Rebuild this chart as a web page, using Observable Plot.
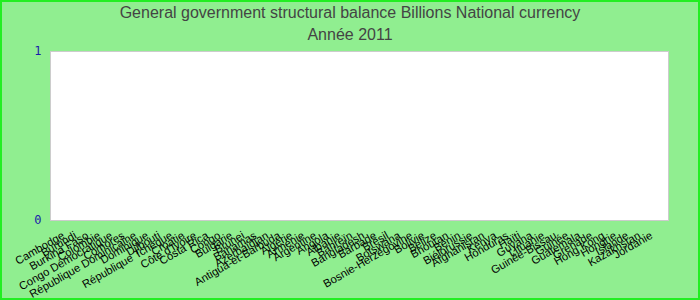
<!DOCTYPE html>
<html>
<head>
<meta charset="utf-8">
<script src="https://cdn.jsdelivr.net/npm/d3@7"></script>
<script src="https://cdn.jsdelivr.net/npm/@observablehq/plot@0.6"></script>
<style>
  html, body { margin: 0; padding: 0; }
  #wrap {
    width: 700px; height: 300px; box-sizing: border-box;
    background: #90EE90; border: 2px solid #22ee22;
    font-family: "Liberation Sans", Arial, sans-serif; overflow: hidden;
  }
  .title { text-align: center; color: #444; font-size: 16px; height: 22px; line-height: 22px; }
  .sub { text-align: center; color: #444; font-size: 16px; height: 18px; line-height: 22px; }
</style>
</head>
<body>
<div id="wrap">
  <div class="title">General government structural balance Billions National currency</div>
  <div class="sub">Année 2011</div>
  <div id="chart"></div>
</div>
<script>
const countries = [
  "Cambodge", "Burundi", "Burkina Faso", "Colombie", "Congo Démocratique",
  "Comores", "République Dominicaine", "Dominique", "Djibouti", "République Tchèque",
  "Croatie", "Côte d'Ivoire", "Costa Rica", "Congo", "Bulgarie", "Brunei", "Bahamas",
  "Azerbaïdjan", "Antigua-et-Barbuda", "Algérie", "Arménie", "Argentine", "Angola",
  "Albanie", "Bahreïn", "Bangladesh", "Barbade", "Brésil", "Botswana",
  "Bosnie-Herzégovine", "Bolivie", "Belize", "Bhoutan", "Bénin", "Biélorussie",
  "Afghanistan", "Kenya", "Honduras", "Haïti", "Guyana", "Lituanie", "Guinée-Bissau",
  "Guinée", "Guatemala", "Grenade", "Hong Kong", "Hongrie", "Islande", "Kazakhstan",
  "Jordanie"
];
const values = countries.map(() => 0);
const yTicks = [0, 1];

const data = countries.map((c, i) => ({country: c, value: values[i]}));

const chart = Plot.plot({
  width: 696,
  height: 256,
  marginTop: 9,
  marginLeft: 48,
  marginRight: 30,
  marginBottom: 78,
  style: {background: "transparent", fontFamily: "Liberation Sans, Arial, sans-serif", overflow: "visible"},
  x: {domain: countries, padding: 0.2},
  y: {domain: [0, 1]},
  marks: [
    Plot.frame({fill: "white", stroke: "#cccccc"}),
    Plot.barY(data, {x: "country", y: "value", fill: "#4472c4"}),
    Plot.axisX({tickSize: 0, tickRotate: -30, tickPadding: 14, dx: -2, fontSize: 11.2, fill: "black", label: null}),
    Plot.axisY({ticks: yTicks, tickSize: 0, tickPadding: 9, tickFormat: d3.format("d"),
                fontSize: 12, fill: "#1a1aaa", fontFamily: "DejaVu Sans Mono", label: null})
  ]
});
document.getElementById("chart").appendChild(chart);
</script>
</body>
</html>
